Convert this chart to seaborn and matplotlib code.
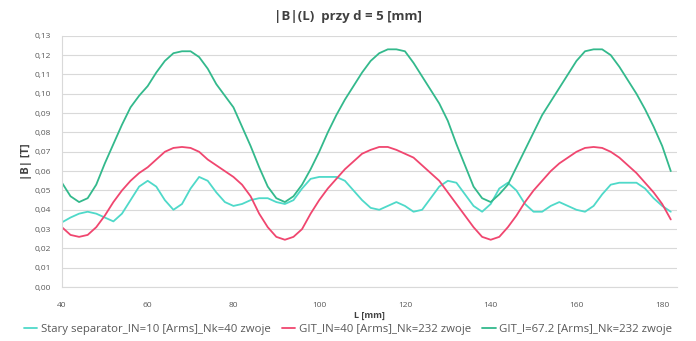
import numpy as np
import pandas as pd
import matplotlib
matplotlib.use("Agg")
import matplotlib.pyplot as plt
import seaborn as sns
from matplotlib.ticker import FuncFormatter, MultipleLocator

L_mm = list(range(40, 184, 2))

b_stary = [0.0335, 0.036, 0.038, 0.039, 0.038, 0.036, 0.034, 0.038, 0.045, 0.052,
           0.055, 0.052, 0.045, 0.040, 0.043, 0.051, 0.057, 0.055, 0.049, 0.044,
           0.042, 0.043, 0.045, 0.046, 0.046, 0.044, 0.043, 0.045, 0.051, 0.056,
           0.057, 0.057, 0.057, 0.055, 0.050, 0.045, 0.041, 0.040, 0.042, 0.044,
           0.042, 0.039, 0.040, 0.046, 0.052, 0.055, 0.054, 0.048, 0.042, 0.039,
           0.043, 0.051, 0.054, 0.050, 0.043, 0.039, 0.039, 0.042, 0.044, 0.042,
           0.040, 0.039, 0.042, 0.048, 0.053, 0.054, 0.054, 0.054, 0.051, 0.046,
           0.042, 0.039]

b_git40 = [0.031, 0.027, 0.026, 0.027, 0.031, 0.037, 0.044, 0.050, 0.055, 0.059,
           0.062, 0.066, 0.070, 0.072, 0.0725, 0.072, 0.070, 0.066, 0.063, 0.060,
           0.057, 0.053, 0.047, 0.038, 0.031, 0.026, 0.0245, 0.026, 0.030, 0.038,
           0.045, 0.051, 0.056, 0.061, 0.065, 0.069, 0.071, 0.0725, 0.0725, 0.071,
           0.069, 0.067, 0.063, 0.059, 0.055, 0.049, 0.043, 0.037, 0.031, 0.026,
           0.0245, 0.026, 0.031, 0.037, 0.044, 0.050, 0.055, 0.060, 0.064, 0.067,
           0.070, 0.072, 0.0725, 0.072, 0.070, 0.067, 0.063, 0.059, 0.054, 0.049,
           0.043, 0.035]

b_git67 = [0.054, 0.047, 0.044, 0.046, 0.053, 0.064, 0.074, 0.084, 0.093, 0.099,
           0.104, 0.111, 0.117, 0.121, 0.122, 0.122, 0.119, 0.113, 0.105, 0.099,
           0.093, 0.083, 0.073, 0.062, 0.052, 0.046, 0.044, 0.047, 0.053, 0.061,
           0.070, 0.080, 0.089, 0.097, 0.104, 0.111, 0.117, 0.121, 0.123, 0.123,
           0.122, 0.116, 0.109, 0.102, 0.095, 0.086, 0.074, 0.063, 0.052, 0.046,
           0.044, 0.048, 0.053, 0.062, 0.071, 0.080, 0.089, 0.096, 0.103, 0.110,
           0.117, 0.122, 0.123, 0.123, 0.120, 0.114, 0.107, 0.100, 0.092, 0.083,
           0.073, 0.060]

series_names = ["Stary separator_IN=10 [Arms]_Nk=40 zwoje",
                "GIT_IN=40 [Arms]_Nk=232 zwoje",
                "GIT_I=67.2 [Arms]_Nk=232 zwoje"]
colors = ["#4fd9c9", "#f0466f", "#33b98c"]

df = pd.concat([
    pd.DataFrame({"L": L_mm, "B": b_stary, "s": series_names[0]}),
    pd.DataFrame({"L": L_mm, "B": b_git40, "s": series_names[1]}),
    pd.DataFrame({"L": L_mm, "B": b_git67, "s": series_names[2]}),
])

sns.set_style("white")
plt.rcParams["font.family"] = ["Open Sans", "DejaVu Sans"]

fig = plt.figure(figsize=(6.96, 3.41), dpi=100)
ax = fig.add_axes([0.089, 0.158, 0.884, 0.737])

sns.lineplot(data=df, x="L", y="B", hue="s", palette=dict(zip(series_names, colors)),
             linewidth=1.3, ax=ax, legend=True)

ax.set_xlim(40, 183.5)
ax.set_ylim(0, 0.13)
ax.yaxis.set_major_locator(MultipleLocator(0.01))
ax.xaxis.set_major_locator(MultipleLocator(20))
ax.yaxis.set_major_formatter(FuncFormatter(lambda v, p: f"{v:.2f}".replace(".", ",")))
ax.grid(axis="y", color="#d9d9d9", linewidth=0.8)
ax.set_axisbelow(True)
for sp in ["top", "right"]:
    ax.spines[sp].set_visible(False)
for sp in ["left", "bottom"]:
    ax.spines[sp].set_color("#d9d9d9")
    ax.spines[sp].set_linewidth(0.8)
ax.tick_params(axis="y", labelsize=6, colors="#595959", length=0, pad=8)
ax.tick_params(axis="x", labelsize=6, colors="#595959", length=0, pad=11)

ax.set_xlabel("L [mm]", fontsize=6.5, fontweight="bold", color="#404040", labelpad=1)
ax.set_ylabel("|B| [T]", fontsize=8, fontweight="bold", color="#404040", labelpad=2)
fig.suptitle("|B|(L)  przy d = 5 [mm]", x=0.5, y=0.97, fontsize=9.5,
             fontweight="bold", color="#404040")

handles, labels = ax.get_legend_handles_labels()
ax.get_legend().remove()
fig.legend(handles, labels, loc="center", bbox_to_anchor=(0.5, 0.033),
           ncol=3, frameon=False, fontsize=8.2, handlelength=1.2, columnspacing=1.0,
           handletextpad=0.3, labelcolor="#595959", borderpad=0)

fig.savefig("out.png", dpi=100)
